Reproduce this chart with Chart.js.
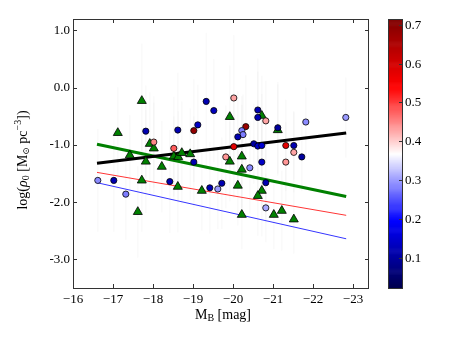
<!DOCTYPE html>
<html lang="en">
<head>
<title>rho0 vs MB</title>
<script src="https://cdn.jsdelivr.net/npm/chart.js@4.4.1/dist/chart.umd.min.js"></script>
<style>
  body { margin: 0; background: #fff; }
</style>
<script>

// circles, coloured by the colour bar value
var circX = [-19.33, -19.52, -17.82, -18.62, -19.02, -19.12, -18.02, -18.52, -19.02, -20.02,
             -20.62, -20.62, -20.82, -21.82, -22.82, -21.12, -20.32, -20.22, -20.25, -20.12,
             -20.02, -20.52, -20.62, -20.72, -21.32, -21.52, -21.52, -21.72, -19.82, -20.72,
             -21.32, -20.42, -20.82, -20.82, -16.62, -17.02, -17.32, -18.42, -19.42, -19.62, -19.72];
var circY = [-0.24, -0.40, -0.76, -0.74, -0.75, -0.65, -0.95, -1.06, -1.30, -0.18,
             -0.39, -0.52, -0.58, -0.60, -0.52, -0.70, -0.68, -0.75, -0.82, -0.86,
             -1.03, -0.98, -1.02, -1.01, -1.01, -1.01, -1.13, -1.21, -1.21, -1.30,
             -1.30, -1.40, -1.66, -2.10, -1.62, -1.62, -1.86, -1.64, -1.75, -1.77, -1.67];
var circC = [0.12, 0.13, 0.12, 0.12, 0.69, 0.14, 0.45, 0.48, 0.12, 0.43,
             0.12, 0.12, 0.43, 0.29, 0.30, 0.10, 0.68, 0.28, 0.28, 0.12,
             0.58, 0.10, 0.14, 0.15, 0.58, 0.12, 0.43, 0.10, 0.44, 0.14,
             0.44, 0.29, 0.12, 0.31, 0.29, 0.12, 0.28, 0.12, 0.12, 0.30, 0.12];
var circErr = [1.2, 0.9, 0.8, 1.0, 0.9, 0.7, 0.8, 0.9, 0.8, 1.1,
               0.9, 0.8, 0.7, 0.6, 0.7, 0.8, 0.9, 0.6, 0.7, 0.8,
               0.9, 0.7, 0.8, 0.9, 0.8, 0.6, 0.7, 0.6, 0.9, 0.8,
               0.7, 0.8, 0.7, 0.6, 0.9, 0.9, 0.8, 0.9, 0.8, 0.7, 0.8];

// triangles
var triX = [-17.72, -17.12, -17.92, -18.02, -17.42, -17.82, -18.22, -18.52, -18.63, -18.72,
            -18.93, -19.92, -20.72, -21.12, -20.22, -19.92, -20.22, -20.12, -20.72, -20.62,
            -20.22, -21.02, -21.22, -21.52, -17.72, -17.62, -18.62, -19.22];
var triY = [-0.23, -0.79, -0.98, -1.06, -1.18, -1.29, -1.38, -1.20, -1.21, -1.14,
            -1.16, -0.51, -0.49, -0.74, -1.20, -1.29, -1.43, -1.71, -1.80, -1.89,
            -2.22, -2.22, -2.15, -2.30, -1.62, -2.17, -1.73, -1.80];
var triErr = [1.0, 0.8, 0.9, 0.8, 0.7, 0.9, 0.8, 0.7, 0.8, 0.9,
              0.8, 0.9, 0.7, 0.8, 0.9, 0.7, 0.8, 0.7, 0.8, 0.7,
              0.6, 0.6, 0.7, 0.6, 0.9, 0.8, 0.8, 0.7];

// fitted lines
var fitX = [-16.6, -22.83];
var blackY = [-1.32, -0.79];
var greenY = [-0.99, -1.90];
var redY = [-1.48, -2.23];
var blueY = [-1.66, -2.64];

var xTicks = [-16, -17, -18, -19, -20, -21, -22, -23];
var yTicks = [-3, -2, -1, 0, 1];
var cbTicks = [0.1, 0.2, 0.3, 0.4, 0.5, 0.6, 0.7];
var cMin = 0.022, cMax = 0.715;

var seismic = [[0, 0, 0.3], [0, 0, 1], [1, 1, 1], [1, 0, 0], [0.5, 0, 0]];
function cmap(v) {
    var t = (v - cMin) / (cMax - cMin);
    t = Math.max(0, Math.min(1, t));
    var s = t * 4, i = Math.min(3, Math.floor(s)), f = s - i;
    var a = seismic[i], b = seismic[i + 1];
    var c = [0, 1, 2].map(function (k) { return Math.round(255 * (a[k] + (b[k] - a[k]) * f)); });
    return 'rgb(' + c.join(',') + ')';
}

function pts(xs, ys) {
    return xs.map(function (x, i) { return {x: x, y: ys[i]}; });
}

function errSegs(xs, ys, es) {
    var out = [];
    for (var i = 0; i < xs.length; i++) {
        out.push({x: xs[i], y: ys[i] - es[i]});
        out.push({x: xs[i], y: ys[i] + es[i]});
        out.push({x: xs[i], y: null});
    }
    return out;
}

var SERIF = '"Liberation Serif", "DejaVu Serif", serif';

// text with sub/superscripts, centred on (0,0)
function richText(ctx, runs) {
    var w = 0;
    runs.forEach(function (r) {
        ctx.font = (r.it ? 'italic ' : '') + r.size + 'px ' + SERIF;
        r.w = ctx.measureText(r.t).width;
        w += r.w;
    });
    var x = -w / 2;
    ctx.textBaseline = 'alphabetic';
    ctx.textAlign = 'left';
    runs.forEach(function (r) {
        ctx.font = (r.it ? 'italic ' : '') + r.size + 'px ' + SERIF;
        ctx.fillText(r.t, x, 5 + (r.dy || 0));
        x += r.w;
    });
}

var decor = {
    id: 'decor',
    afterDatasetsDraw: function (chart) {
        var ctx = chart.ctx, a = chart.chartArea;
        var xs = chart.scales.x, ys = chart.scales.y, cb = chart.scales.cb;
        ctx.save();
        // frame and inward ticks
        ctx.strokeStyle = '#333';
        ctx.lineWidth = 1;
        ctx.strokeRect(a.left + 0.5, a.top + 0.5, a.right - a.left - 1, a.bottom - a.top);
        ctx.beginPath();
        xTicks.forEach(function (v) {
            var p = Math.round(xs.getPixelForValue(v)) + 0.5;
            ctx.moveTo(p, a.bottom); ctx.lineTo(p, a.bottom - 4);
            ctx.moveTo(p, a.top); ctx.lineTo(p, a.top + 4);
        });
        yTicks.forEach(function (v) {
            var p = Math.round(ys.getPixelForValue(v)) + 0.5;
            ctx.moveTo(a.left, p); ctx.lineTo(a.left + 4, p);
            ctx.moveTo(a.right, p); ctx.lineTo(a.right - 4, p);
        });
        ctx.stroke();

        // colour bar
        var cx0 = 388, cx1 = 402;
        var n = 256;
        for (var i = 0; i < n; i++) {
            var v0 = cMin + (cMax - cMin) * i / n, v1 = cMin + (cMax - cMin) * (i + 1) / n;
            var p0 = cb.getPixelForValue(v0), p1 = cb.getPixelForValue(v1);
            ctx.fillStyle = cmap((v0 + v1) / 2);
            ctx.fillRect(cx0, p1, cx1 - cx0, p0 - p1 + 0.6);
        }
        ctx.strokeStyle = '#333';
        ctx.strokeRect(cx0 + 0.5, a.top + 0.5, cx1 - cx0, a.bottom - a.top);
        ctx.fillStyle = '#000';
        ctx.font = '13px ' + SERIF;
        ctx.textAlign = 'left';
        ctx.textBaseline = 'middle';
        ctx.beginPath();
        cbTicks.forEach(function (v) {
            var p = Math.round(cb.getPixelForValue(v)) + 0.5;
            ctx.moveTo(cx1, p); ctx.lineTo(cx1 - 3, p);
            ctx.fillText(v.toFixed(1), cx1 + 3, p);
        });
        ctx.stroke();

        // axis titles
        ctx.fillStyle = '#000';
        ctx.save();
        ctx.translate((a.left + a.right) / 2 + 2, 314);
        richText(ctx, [
            {t: 'M', size: 14},
            {t: 'B', size: 10, dy: 2},
            {t: ' [mag]', size: 14}
        ]);
        ctx.restore();
        ctx.save();
        ctx.translate(22, 160);
        ctx.rotate(-Math.PI / 2);
        richText(ctx, [
            {t: 'log(', size: 14},
            {t: '\u03c1', size: 14, it: true},
            {t: '0', size: 10, dy: 2},
            {t: ' [M', size: 14},
            {t: '\u2299', size: 9, dy: 2},
            {t: ' pc', size: 14},
            {t: '\u22123', size: 10, dy: -6},
            {t: '])', size: 14}
        ]);
        ctx.restore();
        ctx.restore();
    }
};

function go() {
    var ctx = document.getElementById('myChart');
    new Chart(ctx, {
        type: 'scatter',
        data: {
            datasets: [
                {
                    type: 'line', data: errSegs(circX.concat(triX), circY.concat(triY), circErr.concat(triErr)),
                    borderColor: 'rgba(160,160,160,0.08)', borderWidth: 1, pointRadius: 0,
                    spanGaps: false, order: 10
                },
                { type: 'line', data: pts(fitX, blueY), borderColor: '#3535ff', borderWidth: 1, pointRadius: 0, order: 6 },
                { type: 'line', data: pts(fitX, redY), borderColor: '#ff3535', borderWidth: 1, pointRadius: 0, order: 6 },
                { type: 'line', data: pts(fitX, greenY), borderColor: '#008000', borderWidth: 3, pointRadius: 0, order: 5 },
                { type: 'line', data: pts(fitX, blackY), borderColor: '#000000', borderWidth: 3, pointRadius: 0, order: 4 },
                {
                    data: pts(triX, triY), pointStyle: 'triangle', pointRadius: 5.2,
                    backgroundColor: '#008000', borderColor: '#000', borderWidth: 0.8, order: 2
                },
                {
                    data: pts(circX, circY), pointStyle: 'circle', pointRadius: 3.1,
                    backgroundColor: circC.map(cmap), borderColor: '#000', borderWidth: 0.8, order: 1
                }
            ]
        },
        options: {
            responsive: false,
            animation: false,
            devicePixelRatio: 1,
            layout: { padding: { left: 0, right: 94, top: 19, bottom: 0 } },
            plugins: { legend: { display: false }, tooltip: { enabled: false } },
            scales: {
                x: {
                    type: 'linear', reverse: true, min: -23.4, max: -16,
                    afterFit: function (s) { s.height = 60; },
                    afterBuildTicks: function (s) { s.ticks = xTicks.map(function (v) { return {value: v}; }); },
                    grid: { display: false, drawTicks: false },
                    border: { display: false },
                    ticks: {
                        padding: 4, color: '#000', font: { family: SERIF, size: 13 },
                        maxRotation: 0, autoSkip: false,
                        callback: function (v) { return '\u2212' + Math.abs(v); }
                    }
                },
                y: {
                    type: 'linear', min: -3.5, max: 1.2,
                    afterFit: function (s) { s.width = 73; },
                    afterBuildTicks: function (s) { s.ticks = yTicks.map(function (v) { return {value: v}; }); },
                    grid: { display: false, drawTicks: false },
                    border: { display: false },
                    ticks: {
                        padding: 3, color: '#000', font: { family: SERIF, size: 13 },
                        autoSkip: false,
                        callback: function (v) { return v.toFixed(1); }
                    }
                },
                cb: { type: 'linear', display: false, position: 'right', min: cMin, max: cMax }
            }
        },
        plugins: [decor]
    });
}

</script>
</head>
<body onload="go();">
<canvas id="myChart" width="463" height="348"></canvas>
</body>
</html>
